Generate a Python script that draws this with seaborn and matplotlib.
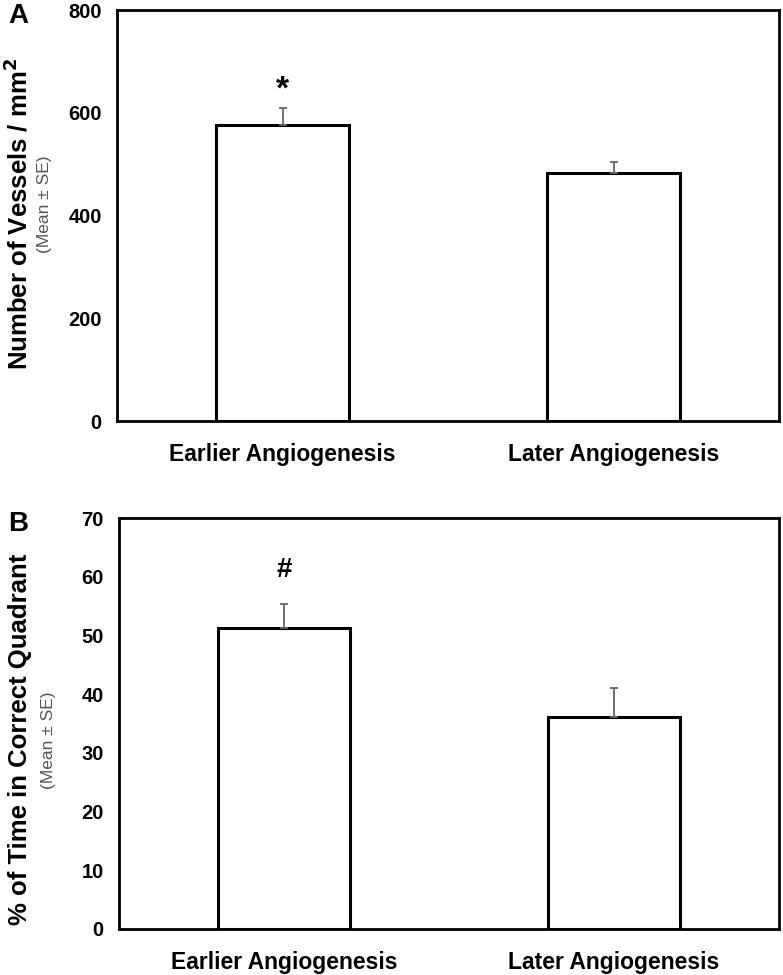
import matplotlib
matplotlib.use("Agg")
import matplotlib.pyplot as plt
import seaborn as sns

groups = ["Earlier Angiogenesis", "Later Angiogenesis"]

vessels_mean = [576, 483]
vessels_se = [34, 22]

quadrant_mean = [51.3, 36.1]
quadrant_se = [4.1, 4.9]

sns.set_style("white")
plt.rcParams["font.family"] = ["Liberation Sans", "DejaVu Sans"]
plt.rcParams["text.color"] = "black"
plt.rcParams["xtick.color"] = "black"
plt.rcParams["ytick.color"] = "black"

fig = plt.figure(figsize=(7.83, 9.75), dpi=100)
axA = fig.add_axes([117 / 783, 1 - 421 / 975, 662 / 783, 411 / 975])
axB = fig.add_axes([119 / 783, 1 - 929 / 975, 660 / 783, 411 / 975])


def draw_panel(ax, means, ses, ymax, ystep, mark, mark_y, mark_size):
    sns.barplot(x=groups, y=means, color="white", edgecolor="black",
                linewidth=2.2, width=0.4, saturation=1, ax=ax)
    ax.errorbar(x=[0, 1], y=means, yerr=[[0, 0], ses], fmt="none",
                ecolor="#666666", elinewidth=1.3, capsize=3, capthick=1.3,
                zorder=1)
    ax.set_xlim(-0.5, 1.5)
    ax.set_ylim(0, ymax)
    ax.set_yticks(range(0, ymax + 1, ystep))
    ax.set_xticks([-0.5, 0.5, 1.5], minor=True)
    ax.tick_params(axis="x", which="major", length=0, pad=16)
    ax.tick_params(axis="x", which="minor", length=6, width=2, direction="out")
    ax.tick_params(axis="y", length=7, width=2, direction="out", pad=4)
    for lab in ax.get_xticklabels():
        lab.set_fontsize(16.5)
        lab.set_fontweight("bold")
    for lab in ax.get_yticklabels():
        lab.set_fontsize(14.5)
        lab.set_fontweight("bold")
    for sp in ax.spines.values():
        sp.set_visible(True)
        sp.set_color("black")
        sp.set_linewidth(2)
    ax.set_xlabel("")
    ax.set_ylabel("")
    ax.text(0, mark_y, mark, ha="center", va="center", fontsize=mark_size,
            fontweight="bold")


draw_panel(axA, vessels_mean, vessels_se, 800, 200, "*", 645, 24)
draw_panel(axB, quadrant_mean, quadrant_se, 70, 10, "#", 61.2, 20)

fig.text(18 / 783, 1 - 214 / 975, "Number of Vessels / mm$^\\mathbf{2}$",
         rotation=90, ha="center", va="center", fontsize=18.5, fontweight="bold")
fig.text(45 / 783, 1 - 204 / 975, "(Mean ± SE)", rotation=90, ha="center",
         va="center", fontsize=12.5, color="#555555")
fig.text(20 / 783, 1 - 739 / 975, "% of Time in Correct Quadrant",
         rotation=90, ha="center", va="center", fontsize=18.5, fontweight="bold")
fig.text(48 / 783, 1 - 740 / 975, "(Mean ± SE)", rotation=90, ha="center",
         va="center", fontsize=12.5, color="#555555")

fig.text(18 / 783, 1 - 16 / 975, "A", ha="center", va="center",
         fontsize=20, fontweight="bold")
fig.text(18 / 783, 1 - 524 / 975, "B", ha="center", va="center",
         fontsize=20, fontweight="bold")

fig.savefig("out.png", dpi=100, facecolor="white")
